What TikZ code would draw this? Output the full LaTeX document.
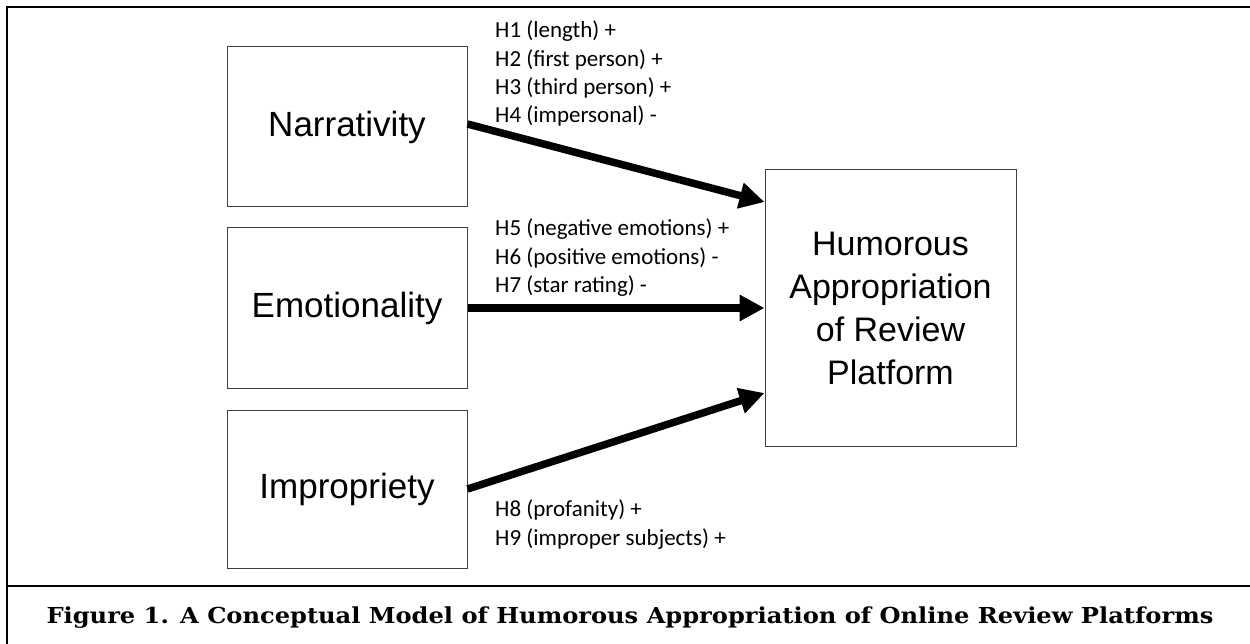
\documentclass[tikz,border=0pt]{standalone}
\usepackage{fontspec}
\setmainfont{Liberation Sans}
\newfontfamily\lblfont{Carlito}
\newfontfamily\capfont{DejaVu Serif}
\usetikzlibrary{arrows.meta,calc}
\begin{document}
\begin{tikzpicture}[x=1pt,y=-1pt,
  box/.style={draw=black!75,line width=1pt,minimum width=240pt,minimum height=160pt,inner sep=0pt,font=\fontsize{35}{40}\selectfont},
  link/.style={line width=7.5pt,-{Triangle[length=25pt,width=25pt]}},
  hyp/.style={anchor=base west,inner sep=0pt,font=\lblfont\fontsize{23}{28}\selectfont},
  frameline/.style={line width=2.5pt}]
\useasboundingbox (0,0) rectangle (1250,644);
\fill[white] (0,0) rectangle (1250,644);
% frame
\draw[frameline] (7,644) -- (7,7) -- (1250,7);
\draw[frameline] (7,586) -- (1250,586);
% boxes
\node[box] (nar) at (347,127) {Narrativity};
\node[box] (emo) at (347,308) {Emotionality};
\node[box,minimum height=158pt] (imp) at (347,489) {Impropriety};
\node[box,minimum width=251pt,minimum height=276pt,align=center,font=\fontsize{34}{43}\selectfont] (hum) at (890.5,308) {Humorous\\Appropriation\\of Review\\Platform};
% arrows
\draw[link] ([yshift=3pt]nar.east) -- ([yshift=106pt]hum.west);
\draw[link] (emo.east) -- (hum.west);
\draw[link] (imp.east) -- ([yshift=-85pt]hum.west);
% labels
\node[hyp] (h1) at (495,38) {H1 (length) +};
\node[hyp] (h2) at (495,66.5) {H2 (first person) +};
\node[hyp] (h3) at (495,95) {H3 (third person) +};
\node[hyp] (h4) at (495,123) {H4 (impersonal) -};
\node[hyp] (h5) at (495,236) {H5 (negative emotions) +};
\node[hyp] (h6) at (495,264.5) {H6 (positive emotions) -};
\node[hyp] (h7) at (495,293) {H7 (star rating) -};
\node[hyp] (h8) at (495,516.5) {H8 (profanity) +};
\node[hyp] (h9) at (495,545) {H9 (improper subjects) +};
% caption
\node[anchor=base,inner sep=0pt,font=\capfont\bfseries\fontsize{22}{24}\selectfont] (cap) at (630,623) {\scalebox{1.097}[1]{Figure 1. A Conceptual Model of Humorous Appropriation of Online Review Platforms}};
\end{tikzpicture}
\end{document}
